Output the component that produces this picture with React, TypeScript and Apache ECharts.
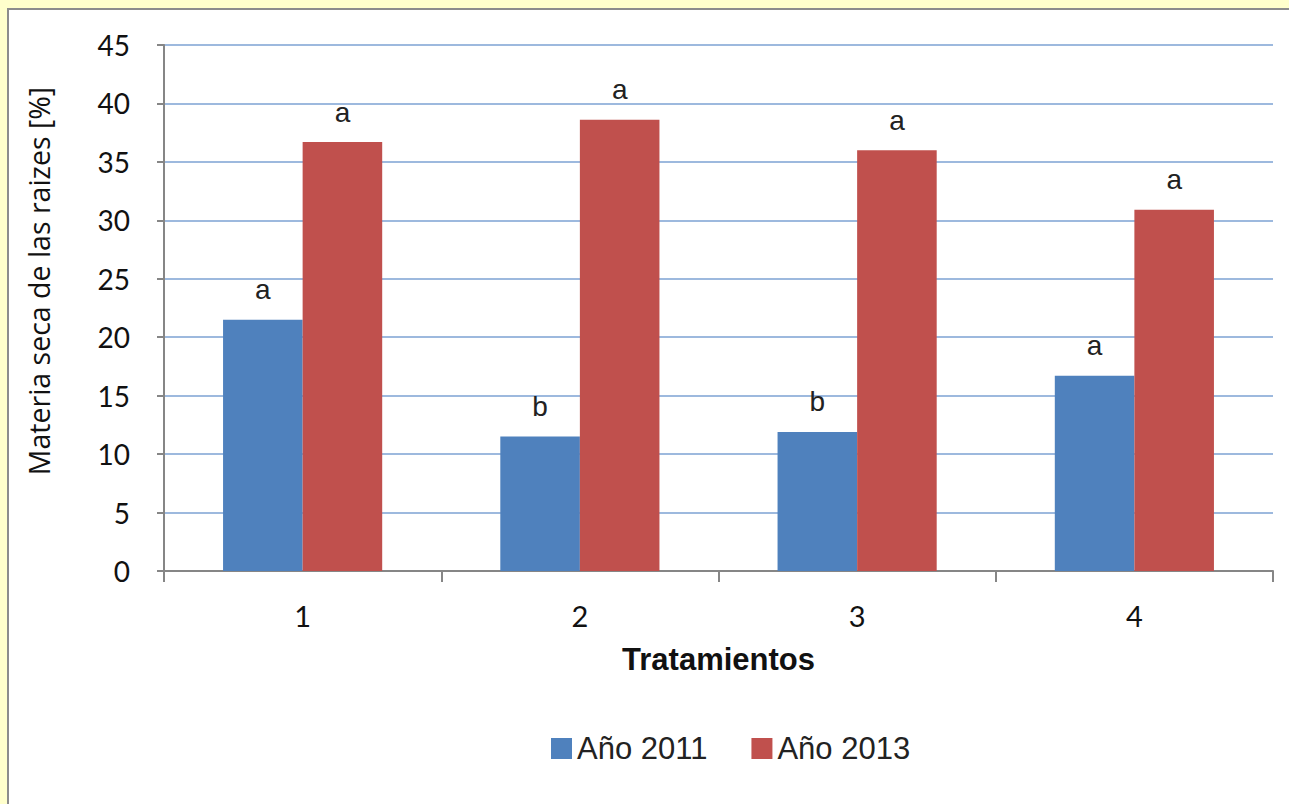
import React, { useEffect, useRef } from "react";
import * as echarts from "echarts";

const categories = ["1", "2", "3", "4"];
const values2011 = [21.5, 11.5, 11.9, 16.7];
const values2013 = [36.7, 38.6, 36.0, 30.9];
const letters2011 = ["a", "b", "b", "a"];
const letters2013 = ["a", "a", "a", "a"];
const seriesNames = ["Año 2011", "Año 2013"];
const yTitle = "Materia seca de las raizes [%]";
const xTitle = "Tratamientos";

export default function App() {
  const ref = useRef<HTMLDivElement>(null);
  useEffect(() => {
    if (!ref.current) return;
    const chart = echarts.init(ref.current, undefined, { renderer: "svg" });
    const mkLabel = (letters: string[]) => ({
      show: true,
      position: "top",
      distance: 16,
      fontFamily: "Liberation Sans",
      fontSize: 28,
      color: "#222",
      formatter: (p: any) => letters[p.dataIndex],
    });
    chart.setOption({
      animation: false,
      backgroundColor: "#FFFFCC",
      graphic: [
        {
          type: "rect",
          z: -10,
          shape: { x: 8, y: 9, width: 1400, height: 900 },
          style: { fill: "#ffffff", stroke: "#8c8c8c", lineWidth: 2 },
        },
        {
          type: "text",
          x: 39,
          y: 281,
          rotation: Math.PI / 2,
          style: {
            text: yTitle,
            fontFamily: "Open Sans",
            fontSize: 28.5,
            fill: "#111",
            align: "center",
            verticalAlign: "middle",
          },
        },
      ],
      grid: { left: 164, top: 45, width: 1109, height: 526 },
      legend: {
        bottom: 35,
        left: 546,
        itemWidth: 21,
        itemHeight: 21,
        itemGap: 44,
        icon: "rect",
        textStyle: { fontFamily: "Liberation Sans", fontSize: 31, color: "#222" },
        data: seriesNames,
      },
      xAxis: {
        type: "category",
        data: categories,
        name: xTitle,
        nameLocation: "middle",
        nameGap: 73,
        nameTextStyle: { fontFamily: "Liberation Sans", fontWeight: "bold", fontSize: 31, color: "#111" },
        axisLine: { lineStyle: { color: "#868686", width: 2 } },
        axisTick: { show: true, alignWithLabel: false, length: 11, lineStyle: { color: "#868686", width: 2 } },
        axisLabel: { fontFamily: "Lato", fontSize: 29, color: "#111", margin: 30 },
      },
      yAxis: {
        type: "value",
        min: 0,
        max: 45,
        interval: 5,
        axisLine: { show: true, lineStyle: { color: "#868686", width: 2 } },
        axisTick: { show: true, length: 7, lineStyle: { color: "#868686", width: 2 } },
        axisLabel: { fontFamily: "Lato", fontSize: 28, color: "#111", margin: 34 },
        splitLine: { lineStyle: { color: "#9DB9DE", width: 2 } },
      },
      series: [
        {
          name: seriesNames[0],
          type: "bar",
          data: values2011,
          barGap: "0%",
          barCategoryGap: "42.6%",
          itemStyle: { color: "#4F81BD" },
          label: mkLabel(letters2011),
        },
        {
          name: seriesNames[1],
          type: "bar",
          data: values2013,
          barGap: "0%",
          barCategoryGap: "42.6%",
          itemStyle: { color: "#C0504D" },
          label: mkLabel(letters2013),
        },
      ],
    });
    return () => chart.dispose();
  }, []);
  return (
    <div
      ref={ref}
      style={{ position: "fixed", left: 0, top: 0, width: 1289, height: 804 }}
    />
  );
}
